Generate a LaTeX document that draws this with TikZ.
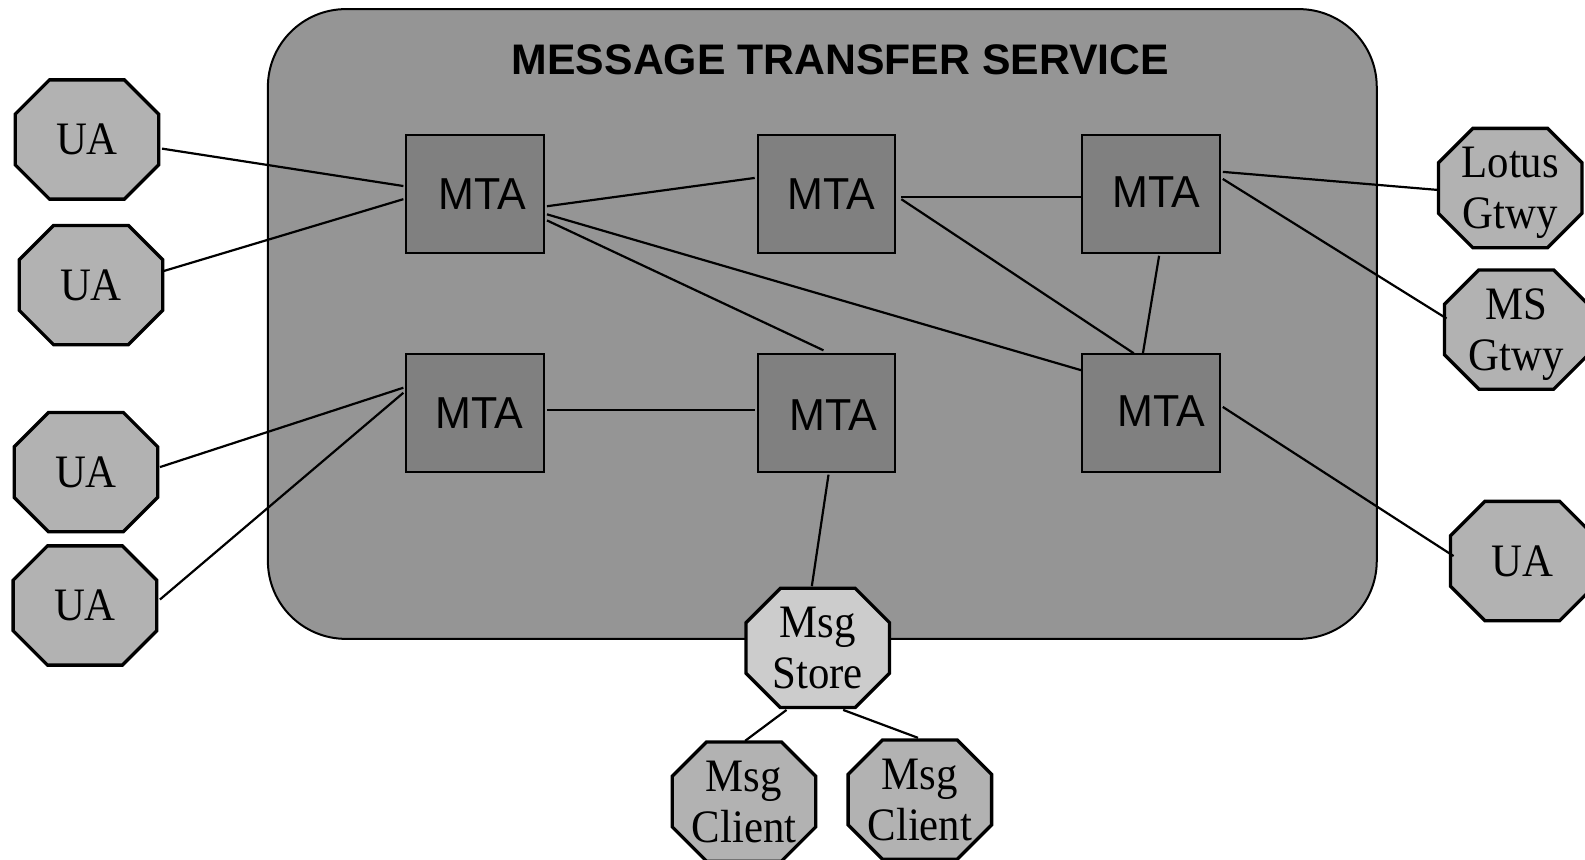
\documentclass[tikz,border=0pt]{standalone}
\usepackage{fontspec}
\setmainfont{Liberation Serif}
\setsansfont{Liberation Sans}
\newfontfamily\mtafont{Liberation Sans}[FakeStretch=0.96]
\newfontfamily\octfont{Liberation Serif}[FakeStretch=0.92]
\usetikzlibrary{calc}
\definecolor{mtsgray}{gray}{0.585}
\definecolor{mtagray}{gray}{0.5}
\definecolor{uagray}{gray}{0.7}
\definecolor{storegray}{gray}{0.8}
\tikzset{
  mtsbox/.style={draw, line width=2pt, fill=mtsgray, rounded corners=78pt,
    minimum width=1097pt, minimum height=623pt, inner sep=0pt},
  mtabox/.style={draw, line width=2pt, fill=mtagray,
    minimum width=136pt, minimum height=116pt, inner sep=0pt},
  mtatext/.style={font=\mtafont\fontsize{44.3}{49}\selectfont, inner sep=0pt},
  titletext/.style={font=\sffamily\bfseries\fontsize{42.3}{49}\selectfont, inner sep=0pt},
  octline/.style={draw, line width=3.3pt, line join=miter},
  octtext/.style={minimum width=142pt, minimum height=118pt, inner sep=0pt,
    align=center, text depth=0pt, font=\octfont\fontsize{46}{50}\selectfont},
  link/.style={line width=2.2pt},
}
\newcommand{\octnode}[5]{%
  \draw[octline, fill=#4, shift={(#2,#3)}] (-37,-59) -- (37,-59) -- (71,-25) -- (71,25)
    -- (37,59) -- (-37,59) -- (-71,25) -- (-71,-25) -- cycle;
  \node[octtext] (#1) at (#2,#3) {#5};
}
\begin{document}
\begin{tikzpicture}[x=1pt,y=-1pt,scale=1.01084,every node/.style={transform shape}]
\useasboundingbox (0,0) rectangle (1568,849.8);
\fill[white] (0,0) rectangle (1568,849.8);
\clip (0,0) rectangle (1568,849.8);

% message transfer service area
\node[mtsbox] (mts) at (813.5,320.5) {};
\node[titletext, anchor=base] (title) at (831.5,74) {MESSAGE TRANSFER SERVICE};

% MTAs
\node[mtabox, label={[mtatext,xshift=7pt]center:MTA}] (m1) at (470,192) {};
\node[mtabox, label={[mtatext,xshift=5pt]center:MTA}] (m2) at (817.5,192) {};
\node[mtabox, label={[mtatext,xshift=5pt,yshift=2pt]center:MTA}] (m3) at (1138.5,192) {};
\node[mtabox, label={[mtatext,xshift=4pt]center:MTA}] (m4) at (470,408.5) {};
\node[mtabox, label={[mtatext,xshift=7pt,yshift=-2pt]center:MTA}] (m5) at (817.5,408.5) {};
\node[mtabox, label={[mtatext,xshift=10pt,yshift=2pt]center:MTA}] (m6) at (1138.5,408.5) {};

% octagons
\octnode{ua1}{86}{138}{uagray}{UA}
\octnode{ua2}{90}{282}{uagray}{UA}
\octnode{ua3}{85}{467}{uagray}{UA}
\octnode{ua4}{84}{599}{uagray}{UA}
\octnode{lotus}{1494}{186}{uagray}{Lotus\\Gtwy}
\octnode{msg}{1500}{326}{uagray}{MS\\Gtwy}
\octnode{ua5}{1506}{555}{uagray}{UA}
\octnode{store}{809}{641}{storegray}{Msg\\Store}
\octnode{client1}{736}{793}{uagray}{Msg\\Client}
\octnode{client2}{910}{791}{uagray}{Msg\\Client}

% connectors
\draw[link] ($(ua1.east)+(3,9)$) -- ($(m1.west)+(-2,-8)$);
\draw[link] ($(ua2.east)+(1,-14)$) -- ($(m1.west)+(-2,5)$);
\draw[link] ($(ua3.east)+(2,-5)$) -- ($(m4.west)+(-2,-25)$);
\draw[link] ($(ua4.east)+(3,-6)$) -- ($(m4.west)+(-2,-20)$);
\draw[link] ($(m1.east)+(2,12)$) -- ($(m2.west)+(-2,-16)$);
\draw[link] ($(m1.east)+(2,20)$) -- ($(m6.west)+(1,-42)$);
\draw[link] ($(m1.east)+(2,26)$) -- ($(m5.north)+(-3,-3)$);
\draw[link] ($(m2.east)+(5,3)$) -- ($(m3.west)+(1,3)$);
\draw[link] ($(m2.east)+(5,5)$) -- ($(m6.north)+(-17,0)$);
\draw[link] ($(m3.south)+(8,2)$) -- ($(m6.north)+(-8,0)$);
\draw[link] ($(m3.east)+(2,-22)$) -- ($(lotus.west)+(1,2)$);
\draw[link] ($(m3.east)+(2,-15)$) -- ($(msg.west)+(2,-11)$);
\draw[link] ($(m4.east)+(2,-3)$) -- ($(m5.west)+(-2,-3)$);
\draw[link] ($(m5.south)+(2,2)$) -- ($(store.north)+(-6,-2)$);
\draw[link] ($(m6.east)+(2,-6)$) -- ($(ua5.west)+(3,-5)$);
\draw[link] ($(store.south)+(-31,2)$) -- ($(client1.north)+(1,-1)$);
\draw[link] ($(store.south)+(25,2)$) -- ($(client2.north)+(-2,-2)$);
\end{tikzpicture}
\end{document}
